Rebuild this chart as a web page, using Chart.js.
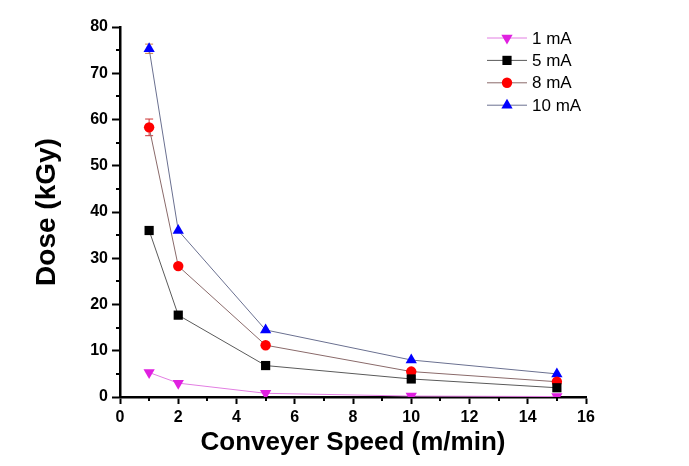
<!DOCTYPE html>
<html>
<head>
<meta charset="utf-8">
<script src="https://cdn.jsdelivr.net/npm/chart.js@4.4.1/dist/chart.umd.min.js"></script>
<style>
html,body{margin:0;padding:0;background:#fff;}
#wrap{width:689px;height:466px;position:relative;}
</style>
</head>
<body>
<div id="wrap"><canvas id="c" width="689" height="466"></canvas></div>
<script>
const speeds = [1, 2, 5, 10, 15];
const dose1mA = [5.3, 3.0, 0.8, 0.2, 0.1];
const dose5mA = [36.0, 17.7, 6.8, 3.9, 2.0];
const dose8mA = [58.3, 28.3, 11.2, 5.5, 3.3];
const dose10mA = [75.3, 36.0, 14.5, 8.0, 5.0];
const err8mA = [1.8, 0, 0, 0, 0];
const err10mA = [1.0, 0, 0, 0, 0];
const seriesLabels = ['1 mA', '5 mA', '8 mA', '10 mA'];
const xTicks = [0, 2, 4, 6, 8, 10, 12, 14, 16];
const yTicks = [0, 10, 20, 30, 40, 50, 60, 70, 80];

const toXY = arr => speeds.map((s, i) => ({x: s, y: arr[i]}));

const datasets = [
  {label: seriesLabels[0], data: toXY(dose1mA), borderColor: '#e27ee2', backgroundColor: '#e020e0',
   pointStyle: 'triangle', rotation: 180, pointRadius: 6.5, err: null},
  {label: seriesLabels[1], data: toXY(dose5mA), borderColor: '#5a5a5a', backgroundColor: '#000000',
   pointStyle: 'rect', rotation: 0, pointRadius: 6.5, err: null},
  {label: seriesLabels[2], data: toXY(dose8mA), borderColor: '#8a6a6a', backgroundColor: '#ff0000',
   pointStyle: 'circle', rotation: 0, pointRadius: 5.2, err: err8mA, errColor: '#cc3333'},
  {label: seriesLabels[3], data: toXY(dose10mA), borderColor: '#6a7090', backgroundColor: '#0000ff',
   pointStyle: 'triangle', rotation: 0, pointRadius: 6.5, err: err10mA, errColor: '#d08040'}
].map(d => Object.assign({
  showLine: true, borderWidth: 1, pointBorderWidth: 0, pointBorderColor: d.backgroundColor,
  pointBackgroundColor: d.backgroundColor, pointRotation: d.rotation, tension: 0
}, d));

const FONT = '"Liberation Sans", Arial, sans-serif';

const extras = {
  id: 'extras',
  beforeDatasetsDraw(chart) {
    const ctx = chart.ctx, xs = chart.scales.x, ys = chart.scales.y;
    chart.data.datasets.forEach(ds => {
      if (!ds.err) return;
      ctx.save();
      ctx.strokeStyle = ds.errColor; ctx.lineWidth = 1;
      ds.data.forEach((p, i) => {
        const e = ds.err[i]; if (!e) return;
        const px = xs.getPixelForValue(p.x);
        const y1 = ys.getPixelForValue(p.y + e), y2 = ys.getPixelForValue(p.y - e);
        ctx.beginPath();
        ctx.moveTo(px, y1); ctx.lineTo(px, y2);
        ctx.moveTo(px - 4, y1); ctx.lineTo(px + 4, y1);
        ctx.moveTo(px - 4, y2); ctx.lineTo(px + 4, y2);
        ctx.stroke();
      });
      ctx.restore();
    });
  },
  afterDraw(chart) {
    const ctx = chart.ctx, xs = chart.scales.x, ys = chart.scales.y;
    const area = chart.chartArea;
    ctx.save();
    ctx.strokeStyle = '#000'; ctx.lineWidth = 2;
    for (let v = 5; v < 80; v += 10) {
      const py = Math.round(ys.getPixelForValue(v));
      ctx.beginPath(); ctx.moveTo(area.left - 4, py); ctx.lineTo(area.left, py); ctx.stroke();
    }
    for (let v = 1; v < 16; v += 2) {
      const px = Math.round(xs.getPixelForValue(v));
      ctx.beginPath(); ctx.moveTo(px, area.bottom); ctx.lineTo(px, area.bottom + 4); ctx.stroke();
    }
    const lx = 487, ly0 = 38, dy = 22.4;
    chart.data.datasets.forEach((ds, i) => {
      const y = ly0 + i * dy;
      ctx.strokeStyle = ds.borderColor; ctx.lineWidth = 1;
      ctx.beginPath(); ctx.moveTo(lx, y); ctx.lineTo(lx + 40, y); ctx.stroke();
      ctx.save();
      ctx.fillStyle = ds.backgroundColor;
      Chart.helpers.drawPoint(ctx, {pointStyle: ds.pointStyle, rotation: ds.rotation,
        radius: ds.pointRadius, borderWidth: 0}, lx + 20, y);
      ctx.restore();
      ctx.fillStyle = '#000';
      ctx.font = '17px ' + FONT;
      ctx.textBaseline = 'middle';
      ctx.fillText(ds.label, lx + 45, y + 1);
    });
    ctx.restore();
  }
};

new Chart(document.getElementById('c'), {
  type: 'scatter',
  data: {datasets},
  options: {
    responsive: false,
    animation: false,
    devicePixelRatio: 1,
    layout: {padding: {top: 27, right: 103, bottom: 0, left: 30}},
    plugins: {legend: {display: false}, tooltip: {enabled: false}},
    scales: {
      x: {
        type: 'linear', min: 0, max: 16,
        afterBuildTicks: s => { s.ticks = xTicks.map(v => ({value: v})); },
        afterFit: s => { s.height = 69; },
        border: {display: true, color: '#000', width: 2.5},
        grid: {drawOnChartArea: false, drawTicks: true, tickLength: 7, tickColor: '#000', tickWidth: 2},
        ticks: {color: '#000', padding: 4, font: {family: FONT, size: 16, weight: 'bold'}, maxRotation: 0},
        title: {display: true, text: 'Conveyer Speed (m/min)', color: '#000',
          font: {family: FONT, size: 26, weight: 'bold'}, padding: {top: 2, bottom: 8}}
      },
      y: {
        type: 'linear', min: 0, max: 80,
        afterBuildTicks: s => { s.ticks = yTicks.map(v => ({value: v})); },
        afterFit: s => { s.width = 90; },
        border: {display: true, color: '#000', width: 2.5},
        grid: {drawOnChartArea: false, drawTicks: true, tickLength: 8, tickColor: '#000', tickWidth: 2},
        ticks: {color: '#000', padding: 4, font: {family: FONT, size: 16, weight: 'bold'}},
        title: {display: true, text: 'Dose (kGy)', color: '#000',
          font: {family: FONT, size: 28, weight: 'bold'}, padding: {top: 0, bottom: 20}}
      }
    }
  },
  plugins: [extras]
});
</script>
</body>
</html>
